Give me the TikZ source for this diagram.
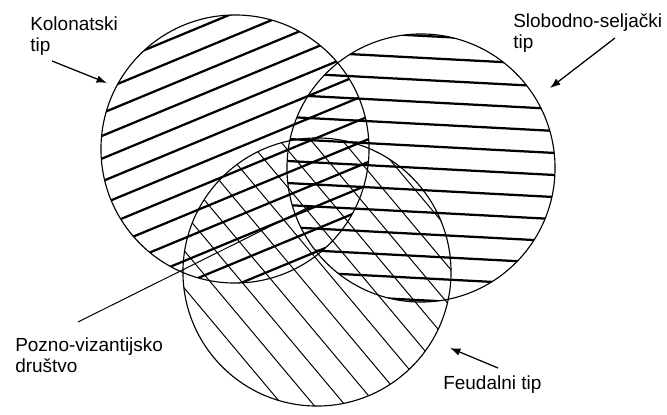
\documentclass[tikz,border=0pt]{standalone}
\usepackage{fontspec}
\setmainfont{Liberation Sans}
\usetikzlibrary{arrows.meta,calc}
\tikzset{
  ring/.style={draw,circle,line width=0.8pt,minimum size=6.7cm,inner sep=0pt},
  hatchbold/.style={line width=1.6pt},
  hatchthin/.style={line width=0.7pt},
  arrow/.style={-{Latex[length=2.6mm,width=1.9mm]},line width=0.9pt},
  pointer/.style={-{Latex[length=1.8mm,width=1.6mm]},line width=0.7pt},
  typelabel/.style={font=\fontsize{13.5}{15}\selectfont,align=left,
    anchor=north west,inner sep=0pt}
}

\begin{document}
\begin{tikzpicture}[x=0.025cm,y=-0.025cm]
  \useasboundingbox (0,0) rectangle (667,415);
  % the three types
  \node[ring] (K) at (235,149) {};
  \node[ring] (S) at (421,168) {};
  \node[ring] (F) at (317,272) {};
  % hatching, one set per circle
  \begin{scope}
    \clip (K.center) circle [radius=3.35cm];
    \begin{scope}[shift={(K.center)},rotate=22.5,x=1cm,y=1cm]
      \foreach \d in {-3.15,-2.625,...,3.2}
        \draw[hatchbold] (-3.6,\d) -- (3.6,\d);
    \end{scope}
  \end{scope}
  \begin{scope}
    \clip (S.center) circle [radius=3.35cm];
    \begin{scope}[shift={(S.center)},rotate=-3,x=1cm,y=1cm]
      \foreach \d in {-3.3,-2.75,...,3.35}
        \draw[hatchbold] (-3.6,\d) -- (3.6,\d);
    \end{scope}
  \end{scope}
  \begin{scope}
    \clip (F.center) circle [radius=3.35cm];
    \begin{scope}[shift={(F.center)},rotate=-50,x=1cm,y=1cm]
      \foreach \d in {-3.4,-2.8,...,3.25}
        \draw[hatchthin] (-3.6,\d) -- (3.6,\d);
    \end{scope}
  \end{scope}
  % labels
  \node[typelabel] (kol) at (30,16) {Kolonatski\\tip};
  \node[typelabel] (slo) at (513,13) {Slobodno-seljački\\tip};
  \node[typelabel] (poz) at (15,337) {Pozno-vizantijsko\\društvo};
  \node[typelabel] (feu) at (443,375) {Feudalni tip};
  \coordinate (kolTail) at (52,61);
  \coordinate (kolTip) at (107,83);
  \coordinate (sloTail) at (615,38);
  \coordinate (sloTip) at (550,88);
  \coordinate (feuTail) at (498,368);
  \coordinate (feuTip) at (450,348);
  \coordinate (pozTail) at (78,322);
  \coordinate (pozTip) at (313,205);
  \draw[arrow] (kolTail) -- (kolTip);
  \draw[arrow] (sloTail) -- (sloTip);
  \draw[arrow] (feuTail) -- (feuTip);
  \draw[pointer] (pozTail) -- (pozTip);
\end{tikzpicture}
\end{document}
